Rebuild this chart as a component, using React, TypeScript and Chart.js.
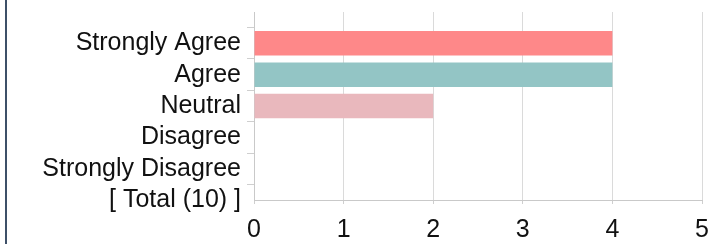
import React, { useEffect, useRef } from "react";
import { Chart, registerables } from "chart.js";

Chart.register(...registerables);

const categories = ["", "Strongly Agree", "Agree", "Neutral", "Disagree", "Strongly Disagree", "[ Total (10) ]"];
const counts: (number | null)[] = [null, 4, 4, 2, 0, 0, null];
const barColors = ["rgba(0,0,0,0)", "#fe8889", "#93c5c5", "#e9b8bd", "#cccccc", "#cccccc", "rgba(0,0,0,0)"];
const xTicks = [0, 1, 2, 3, 4, 5];

export default function App() {
  const ref = useRef<HTMLCanvasElement | null>(null);
  useEffect(() => {
    if (!ref.current) return;
    const font = { family: "'Liberation Sans', Arial, sans-serif", size: 25 };
    const chart = new Chart(ref.current, {
      type: "bar",
      data: {
        labels: categories,
        datasets: [
          {
            data: counts,
            backgroundColor: barColors,
            borderWidth: 0,
            barPercentage: 0.78,
            categoryPercentage: 1,
          },
        ],
      },
      options: {
        indexAxis: "y",
        animation: false,
        responsive: false,
        maintainAspectRatio: false,
        layout: { padding: { top: 12, right: 11, left: 0, bottom: 0 } },
        plugins: { legend: { display: false }, tooltip: { enabled: false } },
        scales: {
          x: {
            min: xTicks[0],
            max: xTicks[xTicks.length - 1],
            afterFit: (s: any) => {
              s.height = 44;
              s.paddingLeft = 0;
              s.paddingRight = 0;
            },
            afterBuildTicks: (s: any) => {
              s.ticks = xTicks.map((v) => ({ value: v }));
            },
            grid: { color: "#dadada", tickColor: "#cfcfcf", tickLength: 4, lineWidth: 1 },
            border: { color: "#c9c9c9" },
            ticks: { color: "#111", font, padding: 11 },
          },
          y: {
            offset: false,
            afterFit: (s: any) => {
              s.width = 254;
              s.paddingTop = 0;
              s.paddingBottom = 0;
            },
            grid: {
              drawOnChartArea: false,
              tickLength: 7,
              tickColor: (ctx: any) => (ctx.index === 0 ? "rgba(0,0,0,0)" : "#cfcfcf"),
            },
            border: { color: "#c9c9c9" },
            ticks: { color: "#111", font, padding: 6, autoSkip: false },
          },
        },
      },
    });
    return () => chart.destroy();
  }, []);
  return (
    <div style={{ position: "fixed", left: 0, top: 0, width: 713, height: 244, background: "#fff" }}>
      <canvas ref={ref} width={713} height={244} style={{ position: "absolute", left: 0, top: 0, width: 713, height: 244 }} />
      <div style={{ position: "absolute", left: 5, top: 0, width: 2, height: 244, background: "#3e5068" }} />
    </div>
  );
}
